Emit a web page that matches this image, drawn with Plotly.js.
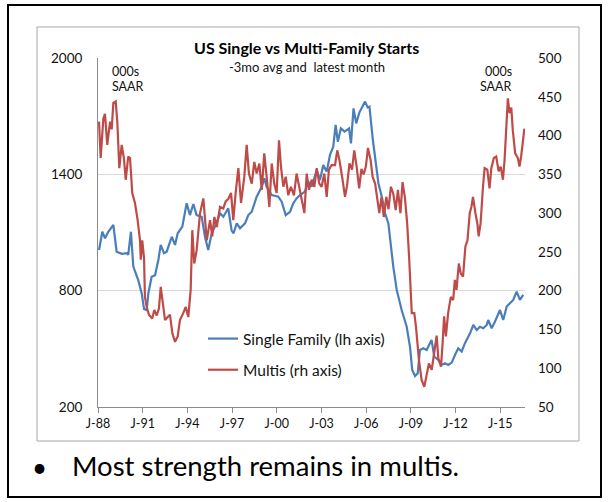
<!DOCTYPE html>
<html>
<head>
<meta charset="utf-8">
<script src="https://cdn.plot.ly/plotly-3.0.1.min.js"></script>
<style>
html,body{margin:0;padding:0;background:#fff;}
#chart{width:610px;height:502px;}
</style>
</head>
<body>
<div id="chart"></div>
<script>
// ---- DATA ----
const tickYears = [1988, 1991, 1994, 1997, 2000, 2003, 2006, 2009, 2012, 2015];
const tickLabels = ["J-88", "J-91", "J-94", "J-97", "J-00", "J-03", "J-06", "J-09", "J-12", "J-15"];

// Single family starts, 000s SAAR (left axis) - time in decimal years
const singleYears = [1988.07,1988.29,1988.47,1988.69,1989.03,1989.25,1989.6,1989.93,1990.03,1990.21,1990.37,1990.7,1990.93,1991.09,1991.27,1991.38,1991.6,1991.83,1992.05,1992.21,1992.43,1992.61,1992.95,1993.17,1993.35,1993.66,1993.95,1994.17,1994.4,1994.62,1994.96,1995.18,1995.4,1995.63,1995.85,1996.19,1996.41,1996.74,1996.97,1997.1,1997.31,1997.53,1997.87,1998.09,1998.32,1998.65,1998.99,1999.16,1999.32,1999.66,2000.1,2000.33,2000.6,2000.89,2001.11,2001.33,2001.56,2001.89,2002.11,2002.34,2002.68,2002.9,2003.12,2003.35,2003.57,2003.79,2003.95,2004.1,2004.3,2004.55,2004.85,2004.98,2005.15,2005.33,2005.55,2005.8,2005.92,2006.1,2006.22,2006.45,2006.6,2006.82,2007.05,2007.27,2007.49,2007.82,2008.05,2008.38,2008.72,2008.94,2009.09,2009.28,2009.46,2009.61,2009.83,2010.06,2010.28,2010.39,2010.57,2010.84,2011.07,2011.29,2011.51,2011.74,2011.96,2012.18,2012.41,2012.63,2012.97,2013.19,2013.42,2013.64,2013.86,2014.09,2014.19,2014.42,2014.64,2014.98,2015.2,2015.43,2015.65,2015.87,2016.1,2016.32,2016.54];
const singleVals = [1010,1104,1070,1104,1139,1001,990,993,985,1104,924,855,787,706,700,787,872,880,958,1036,993,1001,1078,1036,1096,1130,1251,1190,1247,1190,1181,1078,1010,1096,1130,1199,1181,1225,1110,1096,1147,1122,1147,1190,1207,1285,1336,1380,1336,1293,1285,1259,1190,1207,1251,1276,1293,1311,1362,1336,1422,1371,1448,1414,1500,1543,1655,1568,1637,1620,1637,1560,1740,1663,1720,1758,1775,1745,1749,1577,1474,1354,1285,1199,1147,924,804,700,614,511,391,360,374,494,503,494,529,546,460,443,417,426,417,429,468,503,486,529,580,623,597,614,606,623,649,606,640,700,649,718,735,752,795,752,778];

// Multi-family starts, 000s SAAR (right axis)
const multiYears = [1988.07,1988.18,1988.36,1988.47,1988.62,1988.81,1988.92,1989.03,1989.19,1989.3,1989.43,1989.59,1989.74,1989.86,1990.03,1990.15,1990.3,1990.48,1990.66,1990.82,1990.87,1990.97,1991.09,1991.15,1991.27,1991.42,1991.64,1991.78,1991.94,1992.09,1992.21,1992.34,1992.5,1992.68,1992.83,1992.99,1993.17,1993.35,1993.5,1993.72,1993.89,1994.06,1994.22,1994.33,1994.46,1994.62,1994.85,1995.07,1995.3,1995.52,1995.67,1995.81,1995.97,1996.19,1996.41,1996.57,1996.74,1996.93,1997.08,1997.24,1997.42,1997.6,1997.82,1997.98,1998.13,1998.32,1998.49,1998.65,1998.83,1998.99,1999.16,1999.32,1999.5,1999.66,1999.83,1999.99,2000.15,2000.28,2000.44,2000.6,2000.77,2000.95,2001.15,2001.33,2001.49,2001.67,2001.85,2002.01,2002.16,2002.34,2002.52,2002.68,2002.85,2003.01,2003.19,2003.35,2003.5,2003.68,2003.91,2004.06,2004.2,2004.4,2004.58,2004.72,2004.88,2005.05,2005.2,2005.36,2005.53,2005.68,2005.83,2005.98,2006.12,2006.3,2006.43,2006.6,2006.71,2006.88,2007.03,2007.18,2007.35,2007.5,2007.66,2007.82,2007.98,2008.13,2008.3,2008.44,2008.6,2008.75,2008.88,2009.06,2009.23,2009.34,2009.54,2009.72,2009.9,2010.06,2010.21,2010.4,2010.62,2010.73,2010.84,2011.02,2011.13,2011.23,2011.35,2011.5,2011.68,2011.84,2011.95,2012.06,2012.22,2012.35,2012.5,2012.66,2012.8,2012.95,2013.06,2013.17,2013.33,2013.46,2013.55,2013.68,2013.84,2013.95,2014.13,2014.28,2014.4,2014.57,2014.73,2014.89,2015.03,2015.18,2015.29,2015.4,2015.51,2015.62,2015.74,2015.84,2016.0,2016.18,2016.29,2016.4,2016.51,2016.62];
const multiVals = [418,371,422,428,388,418,408,442,444,416,358,388,371,343,373,371,326,313,291,265,240,265,242,192,179,169,164,175,168,177,205,184,162,166,169,145,134,141,162,171,179,166,201,278,235,252,300,319,265,291,270,295,282,308,306,315,318,326,291,326,358,313,347,388,351,338,366,351,364,330,377,347,308,364,338,326,394,360,334,347,323,334,323,351,334,317,300,351,330,343,334,358,338,334,351,321,356,362,362,381,369,345,321,336,364,356,381,360,332,357,350,360,384,368,347,338,321,300,321,295,321,305,334,325,304,330,300,340,320,287,244,171,171,154,111,85,76,91,106,98,132,142,113,102,132,167,141,171,192,188,214,201,235,222,218,257,265,300,308,321,300,287,270,287,334,358,356,332,358,371,373,354,360,343,369,411,448,429,436,407,377,371,360,373,394,409];

const seriesNames = ["Single Family (lh axis)", "Multis (rh axis)"];
const leftTicks = [200, 800, 1400, 2000];
const rightTicks = [50, 100, 150, 200, 250, 300, 350, 400, 450, 500];

// ---- LAYOUT HELPERS (pixel -> paper) ----
const PL = 98, PR = 525, PT = 58, PB = 407;
const px = x => (x - PL) / (PR - PL);
const py = y => (PB - y) / (PB - PT);
const FONT = "Lato, 'Open Sans', sans-serif";
const BLUE = "#4a7ebb", RED = "#be4b48";

const traces = [
  {x: singleYears, y: singleVals, type: "scatter", mode: "lines", name: seriesNames[0],
   line: {color: BLUE, width: 2.2}, yaxis: "y", legendgroup: "a"},
  {x: multiYears, y: multiVals, type: "scatter", mode: "lines", name: seriesNames[1],
   line: {color: RED, width: 2.2}, yaxis: "y2", legendgroup: "b"}
];

function ann(text, x, y, opts) {
  return Object.assign({text: text, xref: "paper", yref: "paper", x: px(x), y: py(y),
    showarrow: false, xanchor: "center", yanchor: "middle",
    font: {family: FONT, size: 12, color: "#111"}}, opts || {});
}

const layout = {
  width: 610, height: 502,
  margin: {l: PL, r: 610 - PR, t: PT, b: 502 - PB, pad: 0},
  paper_bgcolor: "#fff", plot_bgcolor: "rgba(0,0,0,0)",
  font: {family: FONT, size: 12, color: "#111"},
  showlegend: true,
  legend: {x: px(203), y: py(322), xanchor: "left", yanchor: "top",
    bgcolor: "rgba(0,0,0,0)", borderwidth: 0, tracegroupgap: 8,
    font: {family: FONT, size: 15.5, color: "#111"}},
  xaxis: {range: [1988, 2016.66], tickmode: "array", tickvals: tickYears, ticktext: tickLabels,
    showgrid: false, zeroline: false, showline: true, linecolor: "#8c8c8c", linewidth: 1,
    ticks: "outside", ticklen: 5, tickcolor: "#8c8c8c", tickfont: {family: FONT, size: 12.5, color: "#111"}},
  yaxis: {range: [200, 2000], tickmode: "array", tickvals: leftTicks, ticktext: leftTicks.map(String),
    showgrid: true, gridcolor: "#d9d9d9", gridwidth: 1, zeroline: false,
    showline: true, linecolor: "#8c8c8c", linewidth: 1, ticks: "", ticklabelstandoff: 12,
    tickfont: {family: FONT, size: 13.5, color: "#111"}},
  yaxis2: {range: [50, 500], tickmode: "array", tickvals: rightTicks, ticktext: rightTicks.map(String),
    overlaying: "y", side: "right", showgrid: false, zeroline: false, showline: false, ticks: "",
    ticklabelstandoff: 12, tickfont: {family: FONT, size: 13.5, color: "#111"}},
  shapes: [
    {type: "rect", xref: "paper", yref: "paper", x0: px(8), x1: px(601), y0: py(497), y1: py(5),
     line: {color: "#000", width: 2}, fillcolor: "rgba(0,0,0,0)", layer: "below"},
    {type: "rect", xref: "paper", yref: "paper", x0: px(37), x1: px(579), y0: py(441), y1: py(27),
     line: {color: "#a6a6a6", width: 1}, fillcolor: "rgba(0,0,0,0)", layer: "below"},
    {type: "rect", xref: "paper", yref: "paper", x0: px(186), x1: px(430), y0: py(62), y1: py(36),
     line: {width: 0}, fillcolor: "#fff", layer: "above"}
  ],
  annotations: [
    ann("<b>US Single vs Multi-Family Starts</b>", 306, 47, {font: {family: FONT, size: 16, color: "#000"}}),
    ann("-3mo avg and&nbsp; latest month", 307, 67, {font: {family: FONT, size: 13, color: "#111"}}),
    ann("000s", 110, 71, {xanchor: "left", font: {family: FONT, size: 12.5, color: "#111"}}),
    ann("SAAR", 110, 87, {xanchor: "left", font: {family: FONT, size: 12.5, color: "#111"}}),
    ann("000s", 514, 71, {xanchor: "right", font: {family: FONT, size: 12.5, color: "#111"}}),
    ann("SAAR", 514, 87, {xanchor: "right", font: {family: FONT, size: 12.5, color: "#111"}}),
    ann("•", 40, 467, {xanchor: "center", font: {family: FONT, size: 26, color: "#000"}}),
    ann("Most strength remains in multis.", 70, 466, {xanchor: "left", font: {family: FONT, size: 27.5, color: "#000"}})
  ]
};

Plotly.newPlot("chart", traces, layout, {staticPlot: true, displayModeBar: false});
</script>
</body>
</html>
